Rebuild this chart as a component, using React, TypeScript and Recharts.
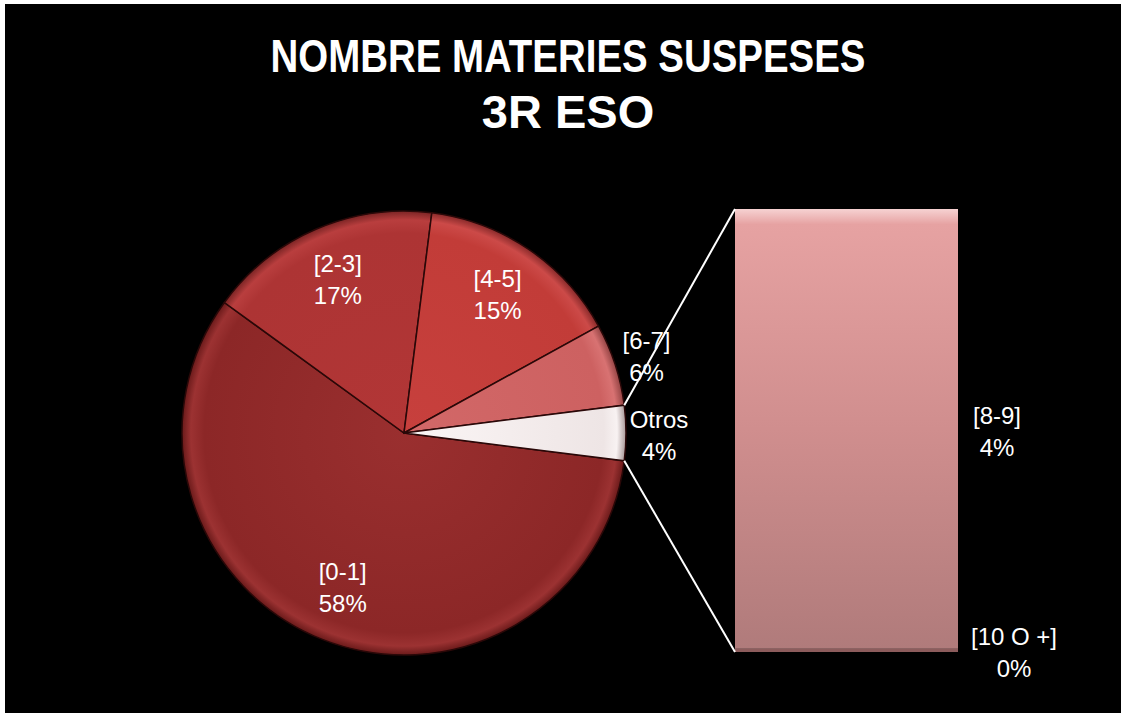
import React from 'react';
import { PieChart, Pie, Cell, BarChart, Bar, XAxis, YAxis, LabelList } from 'recharts';

const pieNames = ['[0-1]', '[2-3]', '[4-5]', '[6-7]', 'Otros'];
const pieMainValues = [58, 17, 15, 6];
const barNames = ['[10 O +]', '[8-9]'];
const barValues = [0.03, 3.97];
const titleLine1 = 'NOMBRE MATERIES SUSPESES';
const titleLine2 = '3R ESO';

const pieColors = [
  { id: 'g0', light: '#9a2f2f', base: '#8c2727', rim: '#9c3232', dark: '#6a1a1a' },
  { id: 'g1', light: '#b23636', base: '#ad3434', rim: '#b93e3e', dark: '#7a2424' },
  { id: 'g2', light: '#c7403d', base: '#c23c38', rim: '#cc4a48', dark: '#882a2a' },
  { id: 'g3', light: '#d26868', base: '#cd6161', rim: '#d87272', dark: '#944444' },
  { id: 'g4', light: '#fbf6f6', base: '#eee5e5', rim: '#f8f2f2', dark: '#a89898' },
];

const W = 1121;
const H = 713;
const PIE_CX = 404;
const PIE_CY = 433;
const PIE_R = 222;
const RAD = Math.PI / 180;

const barTotal = barValues.reduce((a, b) => a + b, 0);
const pieValues = [...pieMainValues, barTotal];
const pieTotal = pieValues.reduce((a, b) => a + b, 0);
const pieData = pieNames.map((name, i) => ({ name, value: pieValues[i] }));
const barData = [{ cat: 'Otros', low: barValues[0], high: barValues[1] }];

const otrosHalfAngle = (barTotal / pieTotal) * 180;
const START = -otrosHalfAngle;
const END = START - 360;

const BAR_BOX = { left: 735, top: 200, width: 386, height: 513 };
const BAR_MARGIN = { top: 9, right: 163, bottom: 61, left: 0 };
const barPlotLeft = BAR_BOX.left + BAR_MARGIN.left;
const barPlotTop = BAR_BOX.top + BAR_MARGIN.top;
const barPlotBottom = BAR_BOX.top + BAR_BOX.height - BAR_MARGIN.bottom;

const FONT = '"Liberation Sans", Arial, sans-serif';

const renderPieLabel = (props: any) => {
  const { cx, cy, midAngle, outerRadius, index } = props;
  const d = pieData[index];
  const outside = d.value < 10;
  const r = outside ? outerRadius + 33 : outerRadius * 0.75;
  const x = cx + r * Math.cos(-midAngle * RAD);
  const y = cy + r * Math.sin(-midAngle * RAD) + (outside ? 3 : 0);
  const pct = Math.round((d.value / pieTotal) * 100);
  return (
    <text x={x} y={y} fill="#ffffff" textAnchor="middle" fontSize={24} fontFamily={FONT}>
      <tspan x={x} dy={-8}>{d.name}</tspan>
      <tspan x={x} dy={32}>{pct}%</tspan>
    </text>
  );
};

const makeBarLabel = (idx: number, dxOff: number) => (props: any) => {
  const { x, y, width, height } = props;
  const lx = x + width + dxOff;
  const ly = y + height / 2 + 3;
  const pct = Math.round((barValues[idx] / pieTotal) * 100);
  return (
    <text x={lx} y={ly} fill="#ffffff" textAnchor="middle" fontSize={24} fontFamily={FONT}>
      <tspan x={lx} dy={-8}>{barNames[idx]}</tspan>
      <tspan x={lx} dy={32}>{pct}%</tspan>
    </text>
  );
};

export default function App() {
  const a1 = otrosHalfAngle * RAD;
  const p1 = { x: PIE_CX + PIE_R * Math.cos(a1), y: PIE_CY - PIE_R * Math.sin(a1) };
  const p2 = { x: PIE_CX + PIE_R * Math.cos(a1), y: PIE_CY + PIE_R * Math.sin(a1) };

  return (
    <div style={{ position: 'absolute', left: 0, top: 0, width: W, height: H, background: '#ffffff', overflow: 'hidden' }}>
      <svg width={W} height={H} style={{ position: 'absolute', left: 0, top: 0 }}>
        <defs>
          {pieColors.map((c) => (
            <radialGradient key={c.id} id={c.id} gradientUnits="userSpaceOnUse" cx={PIE_CX} cy={PIE_CY} r={PIE_R}>
              <stop offset="0" stopColor={c.light} />
              <stop offset="0.9" stopColor={c.base} />
              <stop offset="0.96" stopColor={c.rim} />
              <stop offset="1" stopColor={c.dark} />
            </radialGradient>
          ))}
          <linearGradient id="barHigh" x1="0" y1="0" x2="0" y2="1">
            <stop offset="0" stopColor="#f6d2d2" />
            <stop offset="0.035" stopColor="#e6a2a2" />
            <stop offset="0.5" stopColor="#d08e8e" />
            <stop offset="1" stopColor="#b07b7b" />
          </linearGradient>
        </defs>
        <rect x={5} y={4} width={W - 5} height={H - 4} fill="#000000" />
        <text x={568} y={72} fill="#ffffff" textAnchor="middle" fontSize={47} fontWeight="bold"
          fontFamily='"Liberation Sans Narrow", "Arial Narrow", "Liberation Sans", Arial, sans-serif'
          textLength={595} lengthAdjust="spacingAndGlyphs">{titleLine1}</text>
        <text x={568} y={128} fill="#ffffff" textAnchor="middle" fontSize={47} fontWeight="bold"
          fontFamily={FONT}>{titleLine2}</text>
      </svg>
      <div style={{ position: 'absolute', left: 0, top: 0 }}>
        <PieChart width={W} height={H} margin={{ top: 0, right: 0, bottom: 0, left: 0 }}>
          <Pie
            data={pieData}
            dataKey="value"
            nameKey="name"
            cx={PIE_CX}
            cy={PIE_CY}
            outerRadius={PIE_R}
            startAngle={START}
            endAngle={END}
            stroke="#2a0808"
            strokeWidth={1.5}
            label={renderPieLabel}
            labelLine={false}
            isAnimationActive={false}
          >
            {pieData.map((d, i) => (
              <Cell key={d.name} fill={`url(#${pieColors[i].id})`} />
            ))}
          </Pie>
        </PieChart>
      </div>
      <div style={{ position: 'absolute', left: BAR_BOX.left, top: BAR_BOX.top }}>
        <BarChart width={BAR_BOX.width} height={BAR_BOX.height} data={barData} margin={BAR_MARGIN}
          barCategoryGap={0} barGap={0} style={{ overflow: 'visible' }}>
          <XAxis dataKey="cat" hide />
          <YAxis hide domain={[0, barTotal]} allowDataOverflow />
          <Bar dataKey="low" stackId="s" fill="#8c5c5c" isAnimationActive={false}>
            <LabelList dataKey="low" content={makeBarLabel(0, 56)} />
          </Bar>
          <Bar dataKey="high" stackId="s" fill="url(#barHigh)" isAnimationActive={false}>
            <LabelList dataKey="high" content={makeBarLabel(1, 39)} />
          </Bar>
        </BarChart>
      </div>
      <svg width={W} height={H} style={{ position: 'absolute', left: 0, top: 0, pointerEvents: 'none' }}>
        <line x1={p1.x} y1={p1.y} x2={barPlotLeft} y2={barPlotTop} stroke="#ffffff" strokeWidth={2} />
        <line x1={p2.x} y1={p2.y} x2={barPlotLeft} y2={barPlotBottom} stroke="#ffffff" strokeWidth={2} />
      </svg>
    </div>
  );
}
